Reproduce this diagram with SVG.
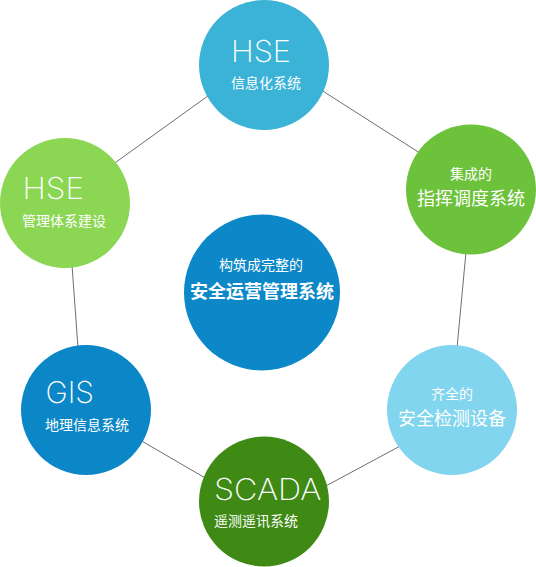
<svg xmlns="http://www.w3.org/2000/svg" width="536" height="567" viewBox="0 0 536 567">
<style>
.ln{stroke:#6e6e6e;stroke-width:1;fill:none}
.en{font-family:Inter,"Open Sans","Liberation Sans",sans-serif;font-weight:150;font-size:30px;fill:#fff}
.cn{font-family:"Noto Sans CJK SC","Noto Sans",sans-serif;font-size:14px;fill:#fff}
.cnl{font-family:"Noto Sans CJK SC","Noto Sans",sans-serif;font-size:18px;fill:#fff}
.cnb{font-family:"Noto Sans CJK SC","Noto Sans",sans-serif;font-size:18px;font-weight:bold;fill:#fff}
.mid{text-anchor:middle}
</style>
<rect width="536" height="567" fill="#fff"/>
<g id="connectors">
<line class="ln" x1="112" y1="165" x2="212" y2="93"/>
<line class="ln" x1="318" y1="88" x2="423" y2="155"/>
<line class="ln" x1="466" y1="252" x2="457" y2="348"/>
<line class="ln" x1="402" y1="445" x2="324" y2="487"/>
<line class="ln" x1="207" y1="479" x2="140" y2="440"/>
<line class="ln" x1="78" y1="348" x2="72" y2="265"/>
</g>
<g id="top">
<circle cx="264" cy="65" r="65" fill="#3ab3d7"/>
<text class="en" x="231" y="62" textLength="60" lengthAdjust="spacingAndGlyphs">HSE</text>
<text class="cn" x="231" y="88">信息化系统</text>
</g>
<g id="left">
<circle cx="65" cy="203" r="65" fill="#8bd653"/>
<text class="en" x="22.5" y="199" textLength="61.5" lengthAdjust="spacingAndGlyphs">HSE</text>
<text class="cn" x="22" y="226">管理体系建设</text>
</g>
<g id="right">
<circle cx="471" cy="189.5" r="65" fill="#6dc23b"/>
<text class="cn mid" x="471" y="179">集成的</text>
<text class="cnl mid" x="471" y="205">指挥调度系统</text>
</g>
<g id="center">
<circle cx="262" cy="292.5" r="78" fill="#0c88c9"/>
<text class="cn mid" x="261" y="270">构筑成完整的</text>
<text class="cnb mid" x="262" y="298">安全运营管理系统</text>
</g>
<g id="gis">
<circle cx="86" cy="410" r="65" fill="#0b87c8"/>
<text class="en" x="45.5" y="403" textLength="48.5" lengthAdjust="spacingAndGlyphs">GIS</text>
<text class="cn" x="45" y="430">地理信息系统</text>
</g>
<g id="detect">
<circle cx="452" cy="410" r="65" fill="#82d5ee"/>
<text class="cn mid" x="452" y="398.5">齐全的</text>
<text class="cnl mid" x="452" y="425">安全检测设备</text>
</g>
<g id="scada">
<circle cx="264" cy="501.5" r="65" fill="#3e8a15"/>
<text class="en" x="214" y="500" textLength="107.5" lengthAdjust="spacingAndGlyphs">SCADA</text>
<text class="cn" x="214" y="526">遥测遥讯系统</text>
</g>
</svg>
